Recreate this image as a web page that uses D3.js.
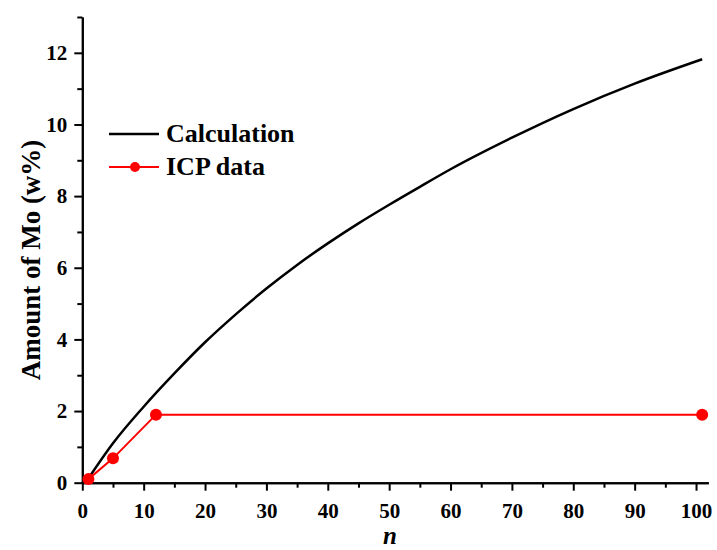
<!DOCTYPE html>
<html>
<head>
<meta charset="utf-8">
<script src="https://d3js.org/d3.v7.min.js"></script>
<style>
	body { margin: 0; background: #fff; }
	text { font-family: "Liberation Serif", "Times New Roman", serif; font-weight: bold; }
</style>
</head>
<body>
<div id="chart-area"></div>
<script>

// calculated curve
var calcN = [1, 5, 10, 15, 20, 25, 30, 35, 40, 45, 50, 55, 60, 70, 80, 90, 101];
var calcMo = [0.12, 1.1, 2.12, 3.05, 3.92, 4.7, 5.42, 6.08, 6.68, 7.24, 7.76, 8.26, 8.75, 9.63, 10.43, 11.14, 11.82];

// ICP measurements
var icpN = [1, 5, 12, 101];
var icpMo = [0.1, 0.68, 1.9, 1.9];

var xTicks = [0, 10, 20, 30, 40, 50, 60, 70, 80, 90, 100];
var xMinorTicks = [5, 15, 25, 35, 45, 55, 65, 75, 85, 95];
var yTicks = [0, 2, 4, 6, 8, 10, 12];
var yMinorTicks = [1, 3, 5, 7, 9, 11, 13];

var width = 717, height = 550;

var svg = d3.select("#chart-area").append("svg")
	.attr("width", width)
	.attr("height", height);

var x = d3.scaleLinear().domain([0, 102]).range([82.3, 708.3]);
var y = d3.scaleLinear().domain([0, 13]).range([482.7, 17]);

// minor ticks first, labels off
svg.append("g")
	.attr("class", "axis")
	.attr("transform", "translate(0," + y(0) + ")")
	.call(d3.axisBottom(x).tickValues(xMinorTicks).tickSize(5).tickSizeOuter(0).tickFormat(""));

svg.append("g")
	.attr("class", "axis")
	.attr("transform", "translate(" + x(0) + ",0)")
	.call(d3.axisLeft(y).tickValues(yMinorTicks).tickSize(5).tickSizeOuter(0).tickFormat(""));

// major ticks
var xAxis = svg.append("g")
	.attr("class", "axis")
	.attr("transform", "translate(0," + y(0) + ")")
	.call(d3.axisBottom(x).tickValues(xTicks).tickSize(8).tickPadding(12).tickSizeOuter(0));

var yAxis = svg.append("g")
	.attr("class", "axis")
	.attr("transform", "translate(" + x(0) + ",0)")
	.call(d3.axisLeft(y).tickValues(yTicks).tickSize(8).tickPadding(7).tickSizeOuter(0));

svg.selectAll(".axis path, .axis line")
	.attr("stroke", "#000")
	.attr("stroke-width", 2);

svg.selectAll(".axis text")
	.attr("font-size", 21)
	.attr("fill", "#000")
	.style("font-family", "Liberation Serif")
	.style("font-weight", "bold");

// calculation line
var calcData = calcN.map(function(d, i){ return { n: d, v: calcMo[i] }; });
var icpData = icpN.map(function(d, i){ return { n: d, v: icpMo[i] }; });

var line = d3.line()
	.x(function(d){ return x(d.n); })
	.y(function(d){ return y(d.v); });

svg.append("path")
	.datum(calcData)
	.attr("fill", "none")
	.attr("stroke", "#000")
	.attr("stroke-width", 2.5)
	.attr("d", line.curve(d3.curveMonotoneX));

svg.append("path")
	.datum(icpData)
	.attr("fill", "none")
	.attr("stroke", "#ff0000")
	.attr("stroke-width", 2)
	.attr("d", d3.line()
		.x(function(d){ return x(d.n); })
		.y(function(d){ return y(d.v); }));

svg.selectAll("circle.icp")
	.data(icpData)
	.enter()
	.append("circle")
	.attr("class", "icp")
	.attr("cx", function(d){ return x(d.n); })
	.attr("cy", function(d){ return y(d.v); })
	.attr("r", 6)
	.attr("fill", "#ff0000");

// axis titles
svg.append("text")
	.text("Amount of Mo (w%)")
	.attr("transform", "translate(40,260) rotate(-90)")
	.attr("text-anchor", "middle")
	.attr("font-size", 27);

svg.append("text")
	.text("n")
	.attr("x", 390)
	.attr("y", 544)
	.attr("text-anchor", "middle")
	.attr("font-size", 25)
	.style("font-style", "italic");

// legend
var legend = svg.append("g").attr("class", "legend");

legend.append("line")
	.attr("x1", 109).attr("x2", 159)
	.attr("y1", 134).attr("y2", 134)
	.attr("stroke", "#000")
	.attr("stroke-width", 2.5);

legend.append("text")
	.text("Calculation")
	.attr("x", 166)
	.attr("y", 142)
	.attr("font-size", 26);

legend.append("line")
	.attr("x1", 109).attr("x2", 159)
	.attr("y1", 167).attr("y2", 167)
	.attr("stroke", "#ff0000")
	.attr("stroke-width", 2);

legend.append("circle")
	.attr("cx", 135)
	.attr("cy", 167)
	.attr("r", 5)
	.attr("fill", "#ff0000");

legend.append("text")
	.text("ICP data")
	.attr("x", 166)
	.attr("y", 175)
	.attr("font-size", 26);

</script>
</body>
</html>
